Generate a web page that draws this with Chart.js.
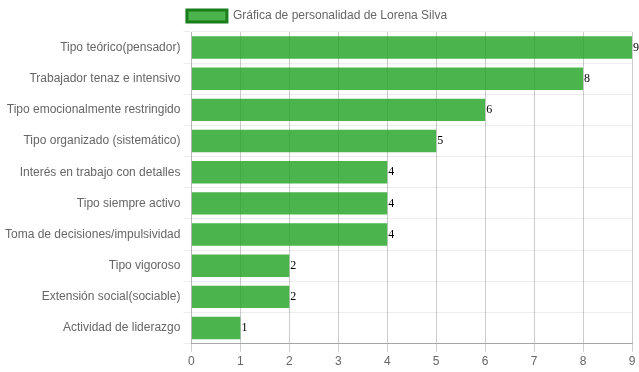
<!DOCTYPE html>
<html>
<head>
<meta charset="utf-8">
<script src="https://cdn.jsdelivr.net/npm/chart.js@4"></script>
<style>
  body { margin: 0; background: #fff; }
  #wrap { width: 639px; height: 372px; }
</style>
</head>
<body>
<div id="wrap"><canvas id="personalityChart"></canvas></div>
<script>
const categories = [
  'Tipo teórico(pensador)',
  'Trabajador tenaz e intensivo',
  'Tipo emocionalmente restringido',
  'Tipo organizado (sistemático)',
  'Interés en trabajo con detalles',
  'Tipo siempre activo',
  'Toma de decisiones/impulsividad',
  'Tipo vigoroso',
  'Extensión social(sociable)',
  'Actividad de liderazgo'
]
const scores = [9, 8, 6, 5, 4, 4, 4, 2, 2, 1]
const seriesName = 'Gráfica de personalidad de Lorena Silva'

// numbers at the end of each bar
const valueLabels = {
  id: 'valueLabels',
  afterDatasetsDraw(chart) {
    const ctx = chart.ctx
    ctx.save()
    ctx.font = '12px "Liberation Serif", "Times New Roman", serif'
    ctx.fillStyle = '#000'
    ctx.textBaseline = 'middle'
    ctx.textAlign = 'left'
    chart.getDatasetMeta(0).data.forEach((bar, i) => {
      ctx.fillText(scores[i], bar.x + 1, bar.y)
    })
    ctx.restore()
  }
}

new Chart(document.getElementById('personalityChart'), {
  type: 'bar',
  data: {
    labels: categories,
    datasets: [{
      label: seriesName,
      data: scores,
      backgroundColor: 'rgba(31,161,31,0.8)',
      borderColor: '#1b7d1b',
      borderWidth: 0
    }]
  },
  plugins: [valueLabels],
  options: {
    indexAxis: 'y',
    responsive: true,
    maintainAspectRatio: false,
    animation: false,
    layout: { padding: { right: 7, left: 2, top: 0 } },
    plugins: {
      tooltip: { enabled: false },
      legend: {
        labels: {
          color: '#666',
          font: { family: 'Arial, "Liberation Sans", sans-serif', size: 12 },
          generateLabels(chart) {
            return [{
              text: seriesName,
              fillStyle: 'rgba(31,161,31,0.8)',
              strokeStyle: '#1b7d1b',
              fontColor: '#666',
              lineWidth: 3,
              datasetIndex: 0
            }]
          }
        }
      }
    },
    scales: {
      x: {
        min: 0,
        max: 9,
        ticks: { stepSize: 1, color: '#666', font: { family: 'Arial, "Liberation Sans", sans-serif', size: 12 } },
        grid: { color: 'rgba(0,0,0,0.2)', drawTicks: true },
        border: { color: 'rgba(0,0,0,0.3)' }
      },
      y: {
        ticks: { color: '#666', font: { family: 'Arial, "Liberation Sans", sans-serif', size: 12 } },
        grid: { color: 'rgba(0,0,0,0.07)' },
        border: { color: 'rgba(0,0,0,0.1)' }
      }
    }
  }
})
</script>
</body>
</html>
